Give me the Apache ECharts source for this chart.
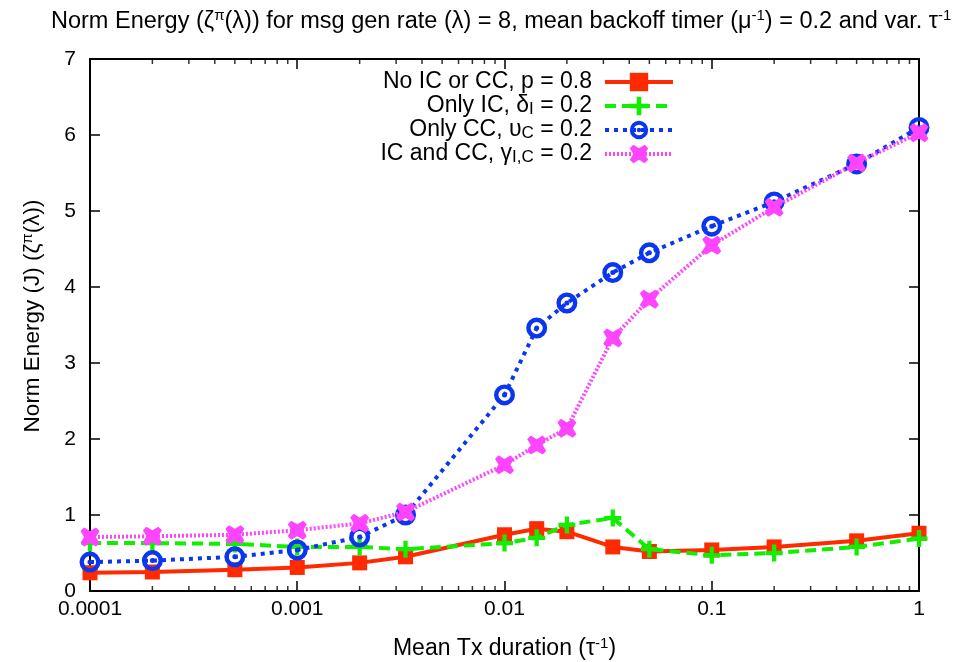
<!DOCTYPE html>
<html>
<head>
<meta charset="utf-8">
<script src="https://cdn.jsdelivr.net/npm/echarts@6/dist/echarts.min.js"></script>
<style>html,body{margin:0;padding:0;background:#fff;}#c{width:958px;height:662px;}</style>
</head>
<body>
<div id="c"></div>
<script>
// ---- data ----
var xValues = [0.0001, 0.0002, 0.0005, 0.001, 0.002, 0.00333, 0.01, 0.0143, 0.02, 0.0333, 0.05, 0.1, 0.2, 0.5, 1];
var noICCC   = [0.24, 0.25, 0.28, 0.31, 0.37, 0.45, 0.74, 0.82, 0.78, 0.58, 0.52, 0.54, 0.58, 0.66, 0.76];
var onlyIC   = [0.63, 0.63, 0.62, 0.58, 0.58, 0.55, 0.63, 0.70, 0.87, 0.96, 0.55, 0.47, 0.50, 0.58, 0.69];
var onlyCC   = [0.38, 0.40, 0.45, 0.54, 0.71, 1.00, 2.58, 3.46, 3.79, 4.19, 4.45, 4.80, 5.12, 5.62, 6.10];
var icAndCC  = [0.71, 0.72, 0.74, 0.80, 0.89, 1.04, 1.66, 1.92, 2.14, 3.33, 3.84, 4.55, 5.05, 5.63, 6.03];
var seriesNames = ['No IC or CC, p = 0.8', 'Only IC, \u03b4I = 0.2', 'Only CC, \u03c5C = 0.2', 'IC and CC, \u03b3I,C = 0.2'];
var legendLabels = [
  'No IC or CC, p = 0.8{g|}',
  'Only IC, \u03b4{sub|I} = 0.2{g|}',
  'Only CC, \u03c5{sub|C} = 0.2{g|}',
  'IC and CC, \u03b3{sub|I,C} = 0.2{g|}'
];
var xTickLabels = ['0.0001', '0.001', '0.01', '0.1', '1'];
var yTickLabels = ['0', '1', '2', '3', '4', '5', '6', '7'];
var titleText = 'Norm Energy (\u03b6{sup|\u03c0}(\u03bb)) for msg gen rate (\u03bb) = 8, mean backoff timer (\u03bc{sup|-1}) = 0.2 and var. \u03c4{sup|-1}';
var xName = 'Mean Tx duration (\u03c4{sup|-1})';
var yName = 'Norm Energy (J) (\u03b6{sup|\u03c0}(\u03bb))';

// minor tick positions on log axis (2..9 per decade)
var minorX = [];
[0.0001, 0.001, 0.01, 0.1].forEach(function (d) {
  [2, 3, 4, 5, 6, 7, 8, 9].forEach(function (m) { minorX.push(+(d * m).toPrecision(3)); });
});

var colors = ['#ff2a00', '#11ee00', '#0a36f0', '#ff44ff'];
var FONT = '"Liberation Sans", Arial, Helvetica, sans-serif';

var ringPath = 'path://M10,0A10,10 0 1,1 10,20A10,10 0 1,1 10,0Z M10,4.2A5.8,5.8 0 1,0 10,15.8A5.8,5.8 0 1,0 10,4.2Z M10,7.6A2.4,2.4 0 1,1 10,12.4A2.4,2.4 0 1,1 10,7.6Z';
var plusPath = 'path://M6,0H10V6H16V10H10V16H6V10H0V6H6Z';
var xPath = 'path://M0,3L3,0L8,3L13,0L16,3L13,8L16,13L13,16L8,13L3,16L0,13L3,8Z';

function pairs(ys) { return xValues.map(function (x, i) { return [x, ys[i]]; }); }

function supRich(fs) { return { sup: { fontSize: fs, lineHeight: fs, verticalAlign: 'top', color: '#000', fontFamily: FONT } }; }

var chart = echarts.init(document.getElementById('c'), null, { renderer: 'canvas' });

function xAxisCfg(pos, showLabel) {
  return {
    type: 'log', logBase: 10, min: 0.0001, max: 1, position: pos,
    axisLine: { show: true, onZero: false, lineStyle: { color: '#000', width: 2 } },
    axisTick: { show: true, inside: true, length: 10, lineStyle: { color: '#000', width: 1.5 } },
    splitLine: { show: false },
    minorTick: { show: false },
    axisLabel: {
      show: showLabel, color: '#000', fontSize: 21, fontFamily: FONT, margin: 8,
      formatter: function (v) { return xTickLabels[Math.round(Math.log10(v)) + 4]; }
    }
  };
}
function yAxisCfg(pos, showLabel) {
  return {
    type: 'value', min: 0, max: 7, interval: 1, position: pos,
    axisLine: { show: true, onZero: false, lineStyle: { color: '#000', width: 2 } },
    axisTick: { show: true, inside: true, length: 10, lineStyle: { color: '#000', width: 1.5 } },
    splitLine: { show: false },
    axisLabel: {
      show: showLabel, color: '#000', fontSize: 21, fontFamily: FONT, margin: 14,
      formatter: function (v) { return yTickLabels[Math.round(v)]; }
    }
  };
}

var xa0 = xAxisCfg('bottom', true);
xa0.name = xName; xa0.nameLocation = 'middle'; xa0.nameGap = 45;
xa0.nameTextStyle = { color: '#000', fontSize: 23, fontFamily: FONT, lineHeight: 26, rich: supRich(15) };
var ya0 = yAxisCfg('left', true);
ya0.name = yName; ya0.nameLocation = 'middle'; ya0.nameGap = 44; ya0.nameRotate = 90;
ya0.nameTextStyle = { color: '#000', fontSize: 22.5, fontFamily: FONT, lineHeight: 26, padding: [0, 0, 0, 18], rich: supRich(15) };

var lineSeries = [
  { name: seriesNames[0], data: pairs(noICCC), symbol: 'rect', symbolSize: 15,
    lineStyle: { width: 4, type: 'solid' } },
  { name: seriesNames[1], data: pairs(onlyIC), symbol: plusPath, symbolSize: 17,
    lineStyle: { width: 4, type: [11, 6] } },
  { name: seriesNames[2], data: pairs(onlyCC), symbol: ringPath, symbolSize: 21,
    lineStyle: { width: 4, type: [4, 5] } },
  { name: seriesNames[3], data: pairs(icAndCC), symbol: xPath, symbolSize: 19,
    lineStyle: { width: 4, type: [2, 2] } }
].map(function (s, i) {
  s.type = 'line';
  s.xAxisIndex = 0; s.yAxisIndex = 0;
  s.color = colors[i];
  s.itemStyle = { color: colors[i], opacity: 1 };
  s.lineStyle.color = colors[i];
  s.showSymbol = true;
  s.z = 10 + i;
  s.clip = false;
  s.emphasis = { disabled: true };
  return s;
});

var minorBottom = {
  type: 'scatter', xAxisIndex: 0, yAxisIndex: 0, silent: true, z: 3,
  data: minorX.map(function (x) { return [x, 0]; }),
  symbol: 'rect', symbolSize: [1.5, 5], symbolOffset: [0, -2.5],
  itemStyle: { color: '#000' }, clip: false
};
var minorTop = {
  type: 'scatter', xAxisIndex: 0, yAxisIndex: 0, silent: true, z: 3,
  data: minorX.map(function (x) { return [x, 7]; }),
  symbol: 'rect', symbolSize: [1.5, 5], symbolOffset: [0, 2.5],
  itemStyle: { color: '#000' }, clip: false
};

chart.setOption({
  animation: false,
  backgroundColor: '#fff',
  textStyle: { fontFamily: FONT },
  title: {
    text: titleText, left: 46, top: 3,
    textStyle: { color: '#000', fontSize: 23.5, fontWeight: 'normal', fontFamily: FONT, lineHeight: 28, rich: supRich(15) }
  },
  grid: { left: 90, right: 39, top: 59, bottom: 71, containLabel: false, outerBoundsMode: 'none' },
  legend: {
    data: seriesNames, orient: 'vertical', align: 'right',
    right: 278, top: 65, itemGap: 0, itemWidth: 68, itemHeight: 23,
    selectedMode: false,
    lineStyle: { width: 4 },
    formatter: function (name) { return legendLabels[seriesNames.indexOf(name)]; },
    textStyle: {
      color: '#000', fontSize: 23, fontFamily: FONT, lineHeight: 24,
      rich: {
        sub: { fontSize: 17, lineHeight: 17, verticalAlign: 'bottom', color: '#000', fontFamily: FONT },
        g: { width: 8 }
      }
    }
  },
  xAxis: [xa0, xAxisCfg('top', false)],
  yAxis: [ya0, yAxisCfg('right', false)],
  series: lineSeries.concat([minorBottom, minorTop])
});
</script>
</body>
</html>
